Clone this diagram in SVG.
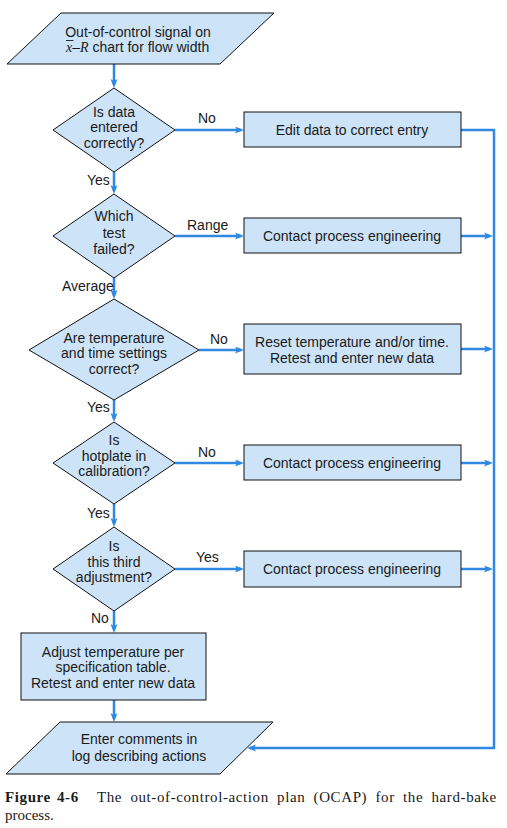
<svg xmlns="http://www.w3.org/2000/svg" width="507" height="828" viewBox="0 0 507 828">
<style>
.shape{fill:#cde4f8;stroke:#111;stroke-width:1}
.t{font-family:"Liberation Sans",Arial,sans-serif;font-size:14px;fill:#1a1a1a;text-anchor:middle}
.lbl{font-family:"Liberation Sans",Arial,sans-serif;font-size:14px;fill:#1a1a1a}
.c{fill:none;stroke:#2f89e3;stroke-width:2.5}
.cap{font-family:"Liberation Serif","Times New Roman",serif;font-size:15px;fill:#1a1a1a;letter-spacing:0.6px}
</style>
<defs>
<marker id="ah" markerUnits="userSpaceOnUse" markerWidth="10" markerHeight="8" refX="6" refY="3.5" orient="auto">
<path d="M0,0 L9,3.5 L0,7 L2,3.5 z" fill="#2f89e3"/>
</marker>
</defs>
<rect width="507" height="828" fill="#fff"/>
<g id="connectors">
<path class="c" d="M114,64 V85" marker-end="url(#ah)"/>
<path class="c" d="M114,172 V191" marker-end="url(#ah)"/>
<path class="c" d="M114,278 V296" marker-end="url(#ah)"/>
<path class="c" d="M114,400 V419" marker-end="url(#ah)"/>
<path class="c" d="M114,504 V524" marker-end="url(#ah)"/>
<path class="c" d="M114,611 V630" marker-end="url(#ah)"/>
<path class="c" d="M114,700 V719" marker-end="url(#ah)"/>
<path class="c" d="M175,130 H241" marker-end="url(#ah)"/>
<path class="c" d="M175,236 H241" marker-end="url(#ah)"/>
<path class="c" d="M199,350 H241" marker-end="url(#ah)"/>
<path class="c" d="M175,463 H241" marker-end="url(#ah)"/>
<path class="c" d="M175,569 H241" marker-end="url(#ah)"/>
<path class="c" d="M461,130 H494 V748 H250" marker-end="url(#ah)"/>
<path class="c" d="M461,236 H490" marker-end="url(#ah)"/>
<path class="c" d="M461,349 H490" marker-end="url(#ah)"/>
<path class="c" d="M461,463 H490" marker-end="url(#ah)"/>
<path class="c" d="M461,569 H490" marker-end="url(#ah)"/>
<text class="lbl" x="198" y="123">No</text>
<text class="lbl" x="87" y="185">Yes</text>
<text class="lbl" x="187" y="230">Range</text>
<text class="lbl" x="62" y="291">Average</text>
<text class="lbl" x="210" y="344">No</text>
<text class="lbl" x="87" y="412">Yes</text>
<text class="lbl" x="198" y="457">No</text>
<text class="lbl" x="87" y="518">Yes</text>
<text class="lbl" x="196" y="562">Yes</text>
<text class="lbl" x="91" y="623">No</text>
</g>
<g id="start">
<polygon class="shape" points="61,13 274,13 220,64 7,64"/>
<text class="t" x="138" y="37">Out-of-control signal on</text>
<text class="lbl" x="66" y="52"><tspan font-family="Liberation Serif, serif" font-style="italic">x</tspan>–<tspan font-family="Liberation Serif, serif" font-style="italic">R</tspan> chart for flow width</text>
<line x1="66" y1="40.5" x2="73.5" y2="40.5" stroke="#1a1a1a" stroke-width="0.9"/>
</g>
<g id="d1">
<polygon class="shape" points="114,88 175,130 114,172 53,130"/>
<text class="t" x="114" y="117">Is data</text>
<text class="t" x="114" y="132">entered</text>
<text class="t" x="114" y="148">correctly?</text>
</g>
<g id="b1">
<rect class="shape" x="244" y="112" width="217" height="35"/>
<text class="t" x="352" y="135">Edit data to correct entry</text>
</g>
<g id="d2">
<polygon class="shape" points="114,194 175,236 114,278 53,236"/>
<text class="t" x="114" y="221">Which</text>
<text class="t" x="114" y="238">test</text>
<text class="t" x="114" y="254">failed?</text>
</g>
<g id="b2">
<rect class="shape" x="244" y="218" width="217" height="35"/>
<text class="t" x="352" y="241">Contact process engineering</text>
</g>
<g id="d3">
<polygon class="shape" points="114,299 199,350 114,400 29,350"/>
<text class="t" x="114" y="343">Are temperature</text>
<text class="t" x="114" y="358">and time settings</text>
<text class="t" x="114" y="374">correct?</text>
</g>
<g id="b3">
<rect class="shape" x="244" y="324" width="217" height="50"/>
<text class="t" x="352" y="347">Reset temperature and/or time.</text>
<text class="t" x="352" y="363">Retest and enter new data</text>
</g>
<g id="d4">
<polygon class="shape" points="114,422 175,463 114,504 53,463"/>
<text class="t" x="114" y="445">Is</text>
<text class="t" x="114" y="461">hotplate in</text>
<text class="t" x="114" y="476">calibration?</text>
</g>
<g id="b4">
<rect class="shape" x="244" y="445" width="217" height="35"/>
<text class="t" x="352" y="468">Contact process engineering</text>
</g>
<g id="d5">
<polygon class="shape" points="114,527 175,569 114,611 53,569"/>
<text class="t" x="114" y="551">Is</text>
<text class="t" x="114" y="567">this third</text>
<text class="t" x="114" y="582">adjustment?</text>
</g>
<g id="b5">
<rect class="shape" x="244" y="551" width="217" height="36"/>
<text class="t" x="352" y="574">Contact process engineering</text>
</g>
<g id="b6">
<rect class="shape" x="21" y="633" width="185" height="67"/>
<text class="t" x="113" y="657">Adjust temperature per</text>
<text class="t" x="113" y="672">specification table.</text>
<text class="t" x="113" y="688">Retest and enter new data</text>
</g>
<g id="end">
<polygon class="shape" points="60,722 273,722 220,774 6,774"/>
<text class="t" x="139" y="744">Enter comments in</text>
<text class="t" x="139" y="761">log describing actions</text>
</g>
<g id="caption">
<text class="cap" y="802"><tspan x="5" font-weight="bold">Figure</tspan><tspan x="57" font-weight="bold">4-6</tspan><tspan x="97">The</tspan><tspan x="130.4">out-of-control-action</tspan><tspan x="277.1">plan</tspan><tspan x="313.6">(OCAP)</tspan><tspan x="375.5">for</tspan><tspan x="403.1">the</tspan><tspan x="431.5">hard-bake</tspan></text>
<text class="cap" x="5" y="820" style="letter-spacing:0">process.</text>
</g>
</svg>
